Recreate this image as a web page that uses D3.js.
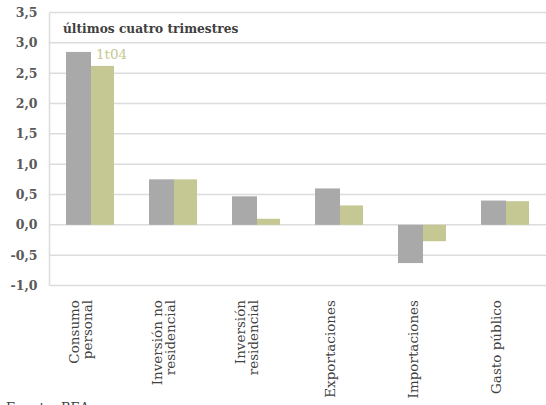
<!DOCTYPE html>
<html>
<head>
<meta charset="utf-8">
<script src="https://cdn.jsdelivr.net/npm/d3@7"></script>
<style>
  html, body { margin: 0; padding: 0; background: #fff; }
  svg { display: block; }
  text { font-family: "DejaVu Serif", serif; }
</style>
</head>
<body>
<svg id="chart" width="546" height="405"></svg>
<script>
// Contribución al crecimiento por componente
const categories = [
  ["Consumo", "personal"],
  ["Inversión no", "residencial"],
  ["Inversión", "residencial"],
  ["Exportaciones"],
  ["Importaciones"],
  ["Gasto público"]
];
const seriesNames = ["últimos cuatro trimestres", "1t04"];
const lastFourQuarters = [2.85, 0.75, 0.47, 0.60, -0.63, 0.40];
const q1_04 = [2.62, 0.75, 0.10, 0.32, -0.27, 0.39];
const yTicks = [-1.0, -0.5, 0.0, 0.5, 1.0, 1.5, 2.0, 2.5, 3.0, 3.5];
const source = "Fuente: BEA.";

const svg = d3.select("#chart");
const margin = { left: 49.5, right: -1.5, top: 12.5, bottom: 119.5 };
const W = 546, H = 405;

const x = d3.scaleBand()
  .domain(d3.range(categories.length))
  .range([margin.left, W - margin.right])
  .paddingInner(0).paddingOuter(0);

const y = d3.scaleLinear()
  .domain([-1.0, 3.5])
  .range([H - margin.bottom, margin.top]);

const fmt = v => d3.format(".1f")(v).replace(".", ",").replace("−", "-");

// gridlines
svg.append("g")
  .selectAll("line")
  .data(yTicks)
  .join("line")
  .attr("x1", margin.left)
  .attr("x2", W)
  .attr("y1", d => y(d))
  .attr("y2", d => y(d))
  .attr("stroke", "#dcdcdc")
  .attr("stroke-width", 1.5);

// vertical axis line
svg.append("line")
  .attr("x1", margin.left).attr("x2", margin.left)
  .attr("y1", y(3.5)).attr("y2", y(-1.0))
  .attr("stroke", "#dcdcdc").attr("stroke-width", 1.5);

// y tick labels
const yAxis = d3.axisLeft(y).tickValues(yTicks).tickFormat(fmt).tickSize(0).tickPadding(12);
const gy = svg.append("g").attr("transform", `translate(${margin.left},0)`).call(yAxis);
gy.select(".domain").remove();
gy.selectAll("text")
  .attr("fill", "#595959")
  .style("font-family", "DejaVu Serif, serif")
  .style("font-size", "12.5px")
  .style("font-weight", "bold");

// bars
const bw1 = 25, bw2 = 23;
const bars = svg.append("g");
bars.selectAll("rect.s1")
  .data(lastFourQuarters)
  .join("rect")
  .attr("class", "s1")
  .attr("x", (d, i) => x(i) + x.bandwidth() / 2 - bw1)
  .attr("width", bw1)
  .attr("y", d => y(Math.max(0, d)))
  .attr("height", d => Math.abs(y(d) - y(0)))
  .attr("fill", "#a9a9a9");
bars.selectAll("rect.s2")
  .data(q1_04)
  .join("rect")
  .attr("class", "s2")
  .attr("x", (d, i) => x(i) + x.bandwidth() / 2)
  .attr("width", bw2)
  .attr("y", d => y(Math.max(0, d)))
  .attr("height", d => Math.abs(y(d) - y(0)))
  .attr("fill", "#c5c893");

// series labels
svg.append("text")
  .attr("x", 63).attr("y", 33)
  .attr("fill", "#404040")
  .style("font-size", "12.2px")
  .style("font-weight", "bold")
  .text(seriesNames[0]);
svg.append("text")
  .attr("x", x(0) + x.bandwidth() / 2 + 5).attr("y", y(q1_04[0]) - 7)
  .attr("fill", "#c5c893")
  .style("font-size", "13.5px")
  .text(seriesNames[1]);

// category labels, rotated
const lineH = 13;
const gx = svg.append("g");
categories.forEach((lines, i) => {
  const cx = x(i) + x.bandwidth() / 2;
  const n = lines.length;
  const t = gx.append("text")
    .attr("transform", `translate(${cx - 10},300) rotate(-90)`)
    .attr("text-anchor", "end")
    .attr("fill", "#404040")
    .style("font-size", "13.5px");
  lines.forEach((ln, k) => {
    t.append("tspan")
      .attr("x", 0)
      .attr("y", (k - (n - 1) / 2) * lineH + 4.5)
      .text(ln);
  });
});

// source note
svg.append("text")
  .attr("x", 6).attr("y", 412)
  .attr("fill", "#404040")
  .style("font-size", "13px")
  .text(source);
</script>
</body>
</html>
